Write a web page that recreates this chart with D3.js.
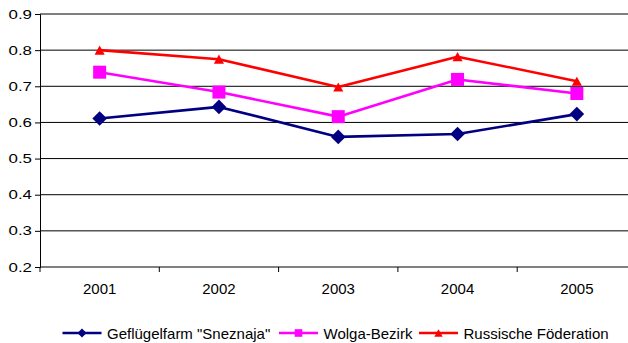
<!DOCTYPE html>
<html>
<head>
<meta charset="utf-8">
<script src="https://cdn.jsdelivr.net/npm/d3@7"></script>
<style>
  html, body { margin: 0; padding: 0; background: #fff; }
  svg { display: block; }
  text { font-family: "Liberation Sans", Arial, sans-serif; fill: #000; }
</style>
</head>
<body>
<div id="chart"></div>
<script>
// Jahre und Kennzahlen je Betrachtungsebene
const years = ["2001", "2002", "2003", "2004", "2005"];
const gefluegelfarm = [0.611, 0.643, 0.560, 0.568, 0.623];
const wolgaBezirk = [0.739, 0.684, 0.616, 0.719, 0.680];
const russischeFoederation = [0.800, 0.775, 0.698, 0.782, 0.714];
const yTicks = [0.2, 0.3, 0.4, 0.5, 0.6, 0.7, 0.8, 0.9];

const seriesNames = ['Geflügelfarm "Sneznaja"', "Wolga-Bezirk", "Russische Föderation"];
const seriesValues = [gefluegelfarm, wolgaBezirk, russischeFoederation];
const seriesColors = ["#000080", "#ff00ff", "#ff0000"];
const seriesMarkers = ["diamond", "square", "triangle"];

const W = 628, H = 343;
const plot = { left: 40, right: 636.5, top: 14, bottom: 267 };

const svg = d3.select("#chart").append("svg")
  .attr("width", W).attr("height", H);

const x = d3.scaleBand().domain(years).range([plot.left, plot.right]).padding(0);
const y = d3.scaleLinear().domain([0.2, 0.9]).range([plot.bottom, plot.top]);

// Gitterlinien
svg.append("g").selectAll("line")
  .data(yTicks.filter(t => t > 0.2))
  .join("line")
  .attr("x1", plot.left).attr("x2", plot.right)
  .attr("y1", d => y(d)).attr("y2", d => y(d))
  .attr("stroke", "#000").attr("stroke-width", 1);

// y-Achse
const yAxis = svg.append("g")
  .attr("transform", `translate(${plot.left},0)`)
  .call(d3.axisLeft(y).tickValues(yTicks).tickSize(5).tickFormat(""));
yAxis.select(".domain").attr("stroke", "#000");
yAxis.selectAll(".tick line").attr("stroke", "#000");

svg.append("g").selectAll("text")
  .data(yTicks)
  .join("text")
  .attr("transform", d => `translate(32,${y(d)}) scale(1.35,1)`)
  .attr("text-anchor", "end")
  .attr("dy", "0.36em")
  .style("font-size", "12.5px")
  .text(d3.format(".1f"));

// x-Achse
const xAxisG = svg.append("g").attr("transform", `translate(0,${plot.bottom})`);
xAxisG.append("line")
  .attr("x1", plot.left).attr("x2", plot.right)
  .attr("stroke", "#000");
const boundaries = years.map(d => x(d)).concat([x(years[years.length - 1]) + x.bandwidth()]);
xAxisG.selectAll("line.tk")
  .data(boundaries)
  .join("line").attr("class", "tk")
  .attr("x1", d => d).attr("x2", d => d)
  .attr("y1", 0).attr("y2", 5)
  .attr("stroke", "#000");
xAxisG.selectAll("text")
  .data(years)
  .join("text")
  .attr("x", d => x(d) + x.bandwidth() / 2)
  .attr("y", 27)
  .attr("text-anchor", "middle")
  .style("font-size", "15px")
  .text(d => d);

// Markersymbole
function markerPath(type, s) {
  if (type === "diamond") {
    return `M0,${-s}L${s},0L0,${s}L${-s},0Z`;
  } else if (type === "square") {
    return `M${-s},${-s}H${s}V${s}H${-s}Z`;
  } else {
    return `M0,${-s}L${s * 1.1},${s}L${-s * 1.1},${s}Z`;
  }
}
const markerSize = { diamond: 7.3, square: 6.5, triangle: 4.6 };

const cx = d => x(d) + x.bandwidth() / 2;
const line = d3.line().x((v, i) => cx(years[i])).y(v => y(v));

seriesValues.forEach((vals, k) => {
  const g = svg.append("g");
  g.append("path")
    .attr("d", line(vals))
    .attr("fill", "none")
    .attr("stroke", seriesColors[k])
    .attr("stroke-width", 2.6)
    .attr("stroke-linejoin", "round");
  g.selectAll("path.m")
    .data(vals)
    .join("path").attr("class", "m")
    .attr("transform", (v, i) => `translate(${cx(years[i])},${y(v)})`)
    .attr("d", markerPath(seriesMarkers[k], markerSize[seriesMarkers[k]]))
    .attr("fill", seriesColors[k]);
});

// Legende
const legendX = [62.5, 279, 419];
const legendY = 333;
const legend = svg.append("g");
seriesNames.forEach((name, k) => {
  const g = legend.append("g").attr("transform", `translate(${legendX[k]},${legendY})`);
  g.append("line").attr("x1", 0).attr("x2", 39).attr("y1", 0).attr("y2", 0)
    .attr("stroke", seriesColors[k]).attr("stroke-width", 2.6);
  const ls = { diamond: 4.5, square: 3.8, triangle: 3.8 }[seriesMarkers[k]];
  g.append("path")
    .attr("transform", "translate(19.5,0)")
    .attr("d", markerPath(seriesMarkers[k], ls))
    .attr("fill", seriesColors[k]);
  g.append("text")
    .attr("x", 44.5).attr("y", 5.5)
    .style("font-size", "15px")
    .text(name);
});
</script>
</body>
</html>
